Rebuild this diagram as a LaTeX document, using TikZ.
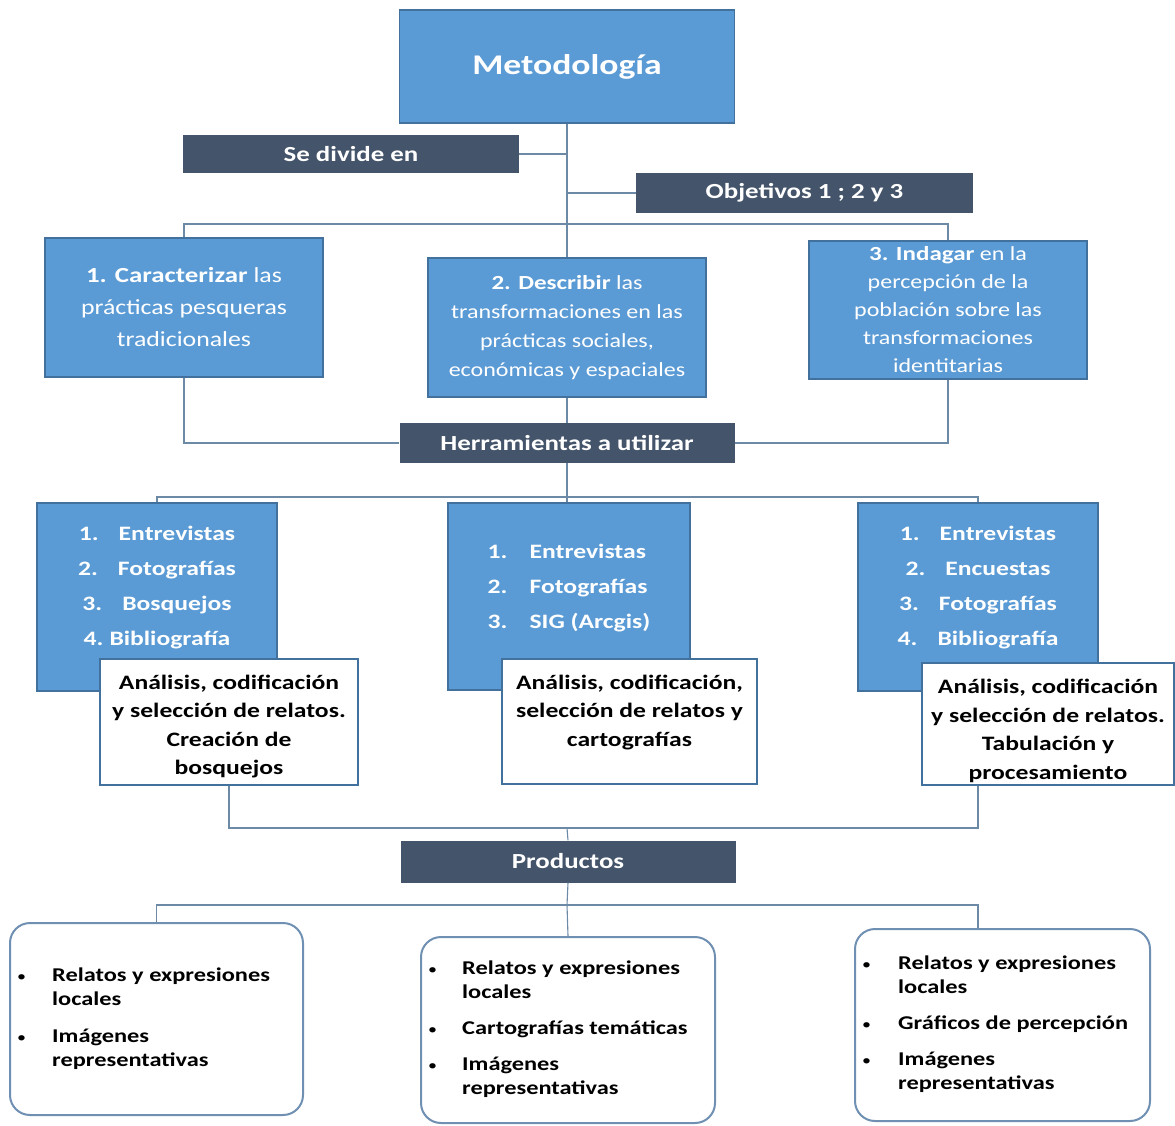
\documentclass[tikz,border=0pt]{standalone}
\usepackage{fontspec}
\setmainfont{Carlito}[FakeStretch=1.2,BoldFeatures={FakeStretch=1.25}]
\definecolor{boxblue}{HTML}{5B9BD5}
\definecolor{boxedge}{HTML}{41719C}
\definecolor{darkslate}{HTML}{44546A}
\definecolor{prodedge}{HTML}{6F90B2}
\definecolor{linecol}{HTML}{6C89A6}
\newcommand{\smallbul}{{\mdseries\fontsize{15}{15}\selectfont\textbullet}}
\begin{document}
\begin{tikzpicture}[x=1pt,y=-1pt,
  bluebox/.style={draw=boxedge, fill=boxblue, line width=1.5pt, inner sep=0pt, text=white, align=center},
  darkbox/.style={fill=darkslate, inner sep=0pt, text=white, font=\fontsize{21.5}{25}\selectfont\bfseries},
  whitebox/.style={draw=boxedge, fill=white, line width=1.5pt, inner sep=0pt},
  prodbox/.style={draw=prodedge, fill=white, line width=2pt, rounded corners=20pt, inner sep=0pt},
  tooltext/.style={text=white, inner sep=0pt, font=\fontsize{20.5}{35}\selectfont\bfseries, align=center},
  antext/.style={text=black, inner sep=0pt, font=\fontsize{20.5}{28.5}\selectfont\bfseries, align=center},
  prodtext/.style={text=black, inner sep=0pt, anchor=west, font=\fontsize{19.5}{24}\selectfont\bfseries},
  conn/.style={draw=linecol, line width=1.1pt}]
\useasboundingbox (0,0) rectangle (1175,1125);

% top
\node[bluebox, minimum width=335pt, minimum height=113pt, font=\fontsize{28.5}{34}\selectfont\bfseries] (meto) at (567,66.5) {Metodología};
\node[darkbox, minimum width=336pt, minimum height=38pt] (sediv) at (351,154) {Se divide en};
\node[darkbox, minimum width=337pt, minimum height=40pt] (obj) at (804.5,193) {Objetivos 1 ; 2 y 3};

% objectives
\node[bluebox, minimum width=278pt, minimum height=139pt, font=\fontsize{21.5}{32}\selectfont] (o1) at (184,307.5)
  {\textbf{1. Caracterizar} las\\prácticas pesqueras\\tradicionales};
\node[bluebox, minimum width=278pt, minimum height=139pt, font=\fontsize{20}{29}\selectfont] (o2) at (567,327.5)
  {\textbf{2. Describir} las\\transformaciones en las\\prácticas sociales,\\económicas y espaciales};
\node[bluebox, minimum width=278pt, minimum height=138pt, font=\fontsize{20}{28}\selectfont] (o3) at (948,310)
  {\textbf{3. Indagar} en la\\percepción de la\\población sobre las\\transformaciones\\identitarias};

\node[darkbox, minimum width=335pt, minimum height=40pt] (herr) at (567,443) {Herramientas a utilizar};

% tools
\node[bluebox, minimum width=240pt, minimum height=188pt] (t1) at (157,597) {};
\node[bluebox, minimum width=242pt, minimum height=187pt] (t2) at (569,596.5) {};
\node[bluebox, minimum width=240pt, minimum height=188pt] (t3) at (978,597) {};
\node[tooltext] (t1txt) at ([yshift=9pt]t1.center)
  {1.\hspace{20pt}Entrevistas\\2.\hspace{20pt}Fotografías\\3.\hspace{20pt}Bosquejos\\4.\hspace{6pt}Bibliografía};
\node[tooltext] (t2txt) at ([yshift=10pt]t2.center)
  {\begin{tabular}{@{}l@{\hspace{22pt}}l@{}}1. & Entrevistas\\2. & Fotografías\\3. & SIG (Arcgis)\end{tabular}};
\node[tooltext] (t3txt) at ([yshift=9pt]t3.center)
  {1.\hspace{20pt}Entrevistas\\2.\hspace{20pt}Encuestas\\3.\hspace{20pt}Fotografías\\4.\hspace{20pt}Bibliografía};

% analysis
\node[whitebox, minimum width=258pt, minimum height=126pt] (a1) at (229,722) {};
\node[whitebox, minimum width=255pt, minimum height=125pt] (a2) at (629.5,721.5) {};
\node[whitebox, minimum width=252pt, minimum height=122pt] (a3) at (1048,724) {};
\node[antext] (a1txt) at ([yshift=-4.5pt]a1.center)
  {Análisis, codificación\\y selección de relatos.\\Creación de\\bosquejos};
\node[antext] (a2txt) at ([yshift=9pt]a2.center)
  {Análisis, codificación,\\selección de relatos y\\cartografías};
\node[antext] (a3txt) at ([yshift=-7pt]a3.center)
  {Análisis, codificación\\y selección de relatos.\\Tabulación y\\procesamiento};

\node[darkbox, minimum width=335pt, minimum height=42pt] (prod) at (568,861.5) {Productos};

% products
\node[prodbox, minimum width=293pt, minimum height=192pt] (p1) at (156.5,1019) {};
\node[prodbox, minimum width=294pt, minimum height=186pt] (p2) at (568,1030) {};
\node[prodbox, minimum width=295pt, minimum height=192pt] (p3) at (1002.5,1025) {};
\node[prodtext] (p1txt) at ([xshift=8pt]p1.west)
  {\begin{tabular}{@{}p{35pt}@{}l@{}}
  \smallbul & Relatos y expresiones\\
   & locales\\[13pt]
  \smallbul & Imágenes\\
   & representativas
  \end{tabular}};
\node[prodtext] (p2txt) at ([xshift=8pt]p2.west)
  {\begin{tabular}{@{}p{34pt}@{}l@{}}
  \smallbul & Relatos y expresiones\\
   & locales\\[12pt]
  \smallbul & Cartografías temáticas\\[12pt]
  \smallbul & Imágenes\\
   & representativas
  \end{tabular}};
\node[prodtext] (p3txt) at ([xshift=8pt]p3.west)
  {\begin{tabular}{@{}p{36pt}@{}l@{}}
  \smallbul & Relatos y expresiones\\
   & locales\\[12pt]
  \smallbul & Gráficos de percepción\\[12pt]
  \smallbul & Imágenes\\
   & representativas
  \end{tabular}};

% connectors
\coordinate (busA) at (567,224);
\coordinate (busB) at (567,497);
\coordinate (busC) at (567,828);
\coordinate (busD) at (567,905);
\draw[conn] (meto.south) -- (o2.north);
\draw[conn] (sediv.east) -- (sediv.east -| meto.south);
\draw[conn] (obj.west) -- (obj.west -| meto.south);
\draw[conn] (o1.north) |- (busA) -| (o3.north);
\draw[conn] (o1.south) |- (herr.west);
\draw[conn] (o3.south) |- (herr.east);
\draw[conn] (o2.south) -- (herr.north);
\draw[conn] (herr.south) -- (busB);
\draw[conn] (t1.north) |- (busB) -| (t3.north);
\draw[conn] (busB) -- (busB |- t2.north);
\draw[conn] (a1.south) |- (busC) -| (a3.south -| t3.north);
\draw[conn] (busC) -- (prod.north);
\draw[conn] (prod.south) -- (busD);
\draw[conn] (p1.north) |- (busD) -| (p3.north -| t3.north);
\draw[conn] (busD) -- (p2.north);
\end{tikzpicture}
\end{document}
